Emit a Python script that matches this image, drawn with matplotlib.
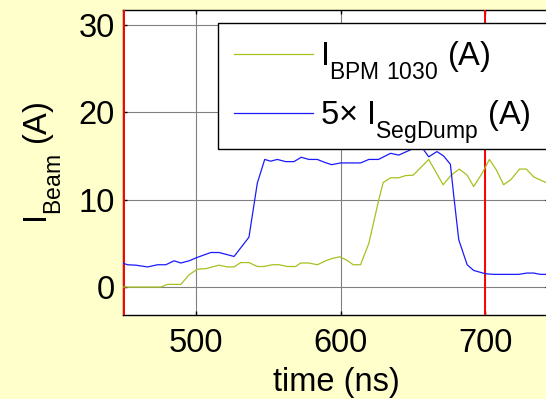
import matplotlib
matplotlib.use('Agg')
import matplotlib.pyplot as plt
import matplotlib.patches as mpatches
import matplotlib._mathtext as mathtext_internal

plt.rcParams['font.family'] = ['Liberation Sans', 'DejaVu Sans']
plt.rcParams['mathtext.default'] = 'regular'
# subindices mas bajos, estilo MATLAB
mathtext_internal.FontConstantsBase.sub1 = 0.8

# ── datos ─────────────────────────────────────────────────────
t_bpm = [448, 475.6, 480.2, 489.4, 495.1, 500.9, 506.6, 515.8, 521.6, 526.2,
         530.8, 536.5, 542.3, 546.7, 552.7, 557.3, 563.1, 568.8, 572.2, 578.0,
         583.8, 589.5, 594.1, 599.4, 604.5, 608.6, 613.7, 619.4, 626.3, 629.3,
         634.4, 640.1, 644.8, 650.1, 660.8, 670.8, 676.3, 682.0, 687.4, 691.9,
         697.7, 702.8, 707.6, 712.6, 717.7, 723.6, 728.3, 733.4, 744.0]
i_bpm = [0.0, 0.0, 0.3, 0.3, 1.4, 2.05, 2.1, 2.5, 2.3, 2.3,
         2.8, 2.8, 2.35, 2.35, 2.55, 2.55, 2.35, 2.35, 2.75, 2.75,
         2.55, 3.0, 3.27, 3.46, 3.04, 2.55, 2.55, 5.0, 10.0, 11.95,
         12.5, 12.5, 12.75, 12.8, 14.6, 11.7, 12.8, 13.5, 12.8, 11.5,
         13.0, 14.6, 13.4, 11.7, 12.3, 13.5, 13.5, 12.6, 11.8]

t_dump = [448, 452.6, 458.3, 466.4, 473.3, 479.0, 484.7, 489.4, 495.1, 500.9,
          510.1, 515.8, 526.2, 536.5, 542.3, 547.4, 551.5, 556.1, 561.9, 567.6,
          572.7, 578.0, 583.8, 588.3, 593.6, 599.9, 613.7, 619.4, 626.1, 634.4,
          640.1, 648.2, 653.0, 657.4, 660.8, 666.5, 671.1, 675.8, 678.2, 681.6,
          687.4, 691.9, 700.0, 705.7, 723.0, 728.8, 733.4, 738.0, 744.0]
i_dump = [2.8, 2.55, 2.5, 2.3, 2.55, 2.55, 3.0, 2.75, 3.0, 3.4,
          3.95, 3.95, 3.5, 5.7, 11.9, 14.6, 14.4, 14.6, 14.35, 14.35,
          14.85, 14.6, 14.6, 14.3, 14.0, 14.2, 14.2, 14.6, 14.6, 15.3,
          15.1, 15.7, 16.2, 15.7, 14.9, 15.5, 15.0, 14.05, 10.35, 5.4,
          2.55, 1.9, 1.52, 1.45, 1.45, 1.6, 1.6, 1.45, 1.45]

marks_t = [450, 700]          # lineas rojas
x_ticks = [500, 600, 700]
y_ticks = [0, 10, 20, 30]

BG = '#ffffcc'
FS = 23.5

fig = plt.figure(figsize=(5.46, 3.99), dpi=100, facecolor=BG)
ax = fig.add_axes([123 / 546, 84 / 399, 426 / 546, 305 / 399])

for t in marks_t:
    ax.axvline(t, color='red', lw=1.4, zorder=3)

ax.plot(t_bpm, i_bpm, color='#a8c020', lw=0.9, zorder=4,
        label=r'$I_{BPM\ 1030}$ (A)')
ax.plot(t_dump, i_dump, color='#1a1aff', lw=0.9, zorder=4,
        label=r'5× $I_{SegDump}$ (A)')

ax.set_xlim(449.4, 744)
ax.set_ylim(-3.2, 31.7)
ax.set_xticks(x_ticks)
ax.set_yticks(y_ticks)
ax.grid(True, color='#808080', lw=0.8)
ax.set_axisbelow(True)
ax.tick_params(direction='in', length=3, width=1, top=True, right=True,
               labelsize=FS)
ax.tick_params(axis='x', pad=9)
ax.tick_params(axis='y', pad=6)
for s in ax.spines.values():
    s.set_linewidth(1.0)

ax.set_xlabel('time (ns)', fontsize=FS, labelpad=6)
ax.set_ylabel(r'$I_{Beam}$ (A)', fontsize=FS, labelpad=10)

# caja de la leyenda (se sale por la derecha como en el original)
box = mpatches.Rectangle((95 / 426, 166 / 305), 0.9, 126 / 305,
                         transform=ax.transAxes, facecolor='white',
                         edgecolor='black', lw=1.0, zorder=4.5, clip_on=False)
ax.add_patch(box)

leg = ax.legend(loc='upper left', bbox_to_anchor=(95 / 426, 292 / 305),
                fontsize=FS, frameon=False, handlelength=2.42,
                handletextpad=0.22, borderpad=0.5, labelspacing=0.5,
                borderaxespad=0)
leg.set_zorder(5)

fig.savefig('out.png', dpi=100, facecolor=BG)
